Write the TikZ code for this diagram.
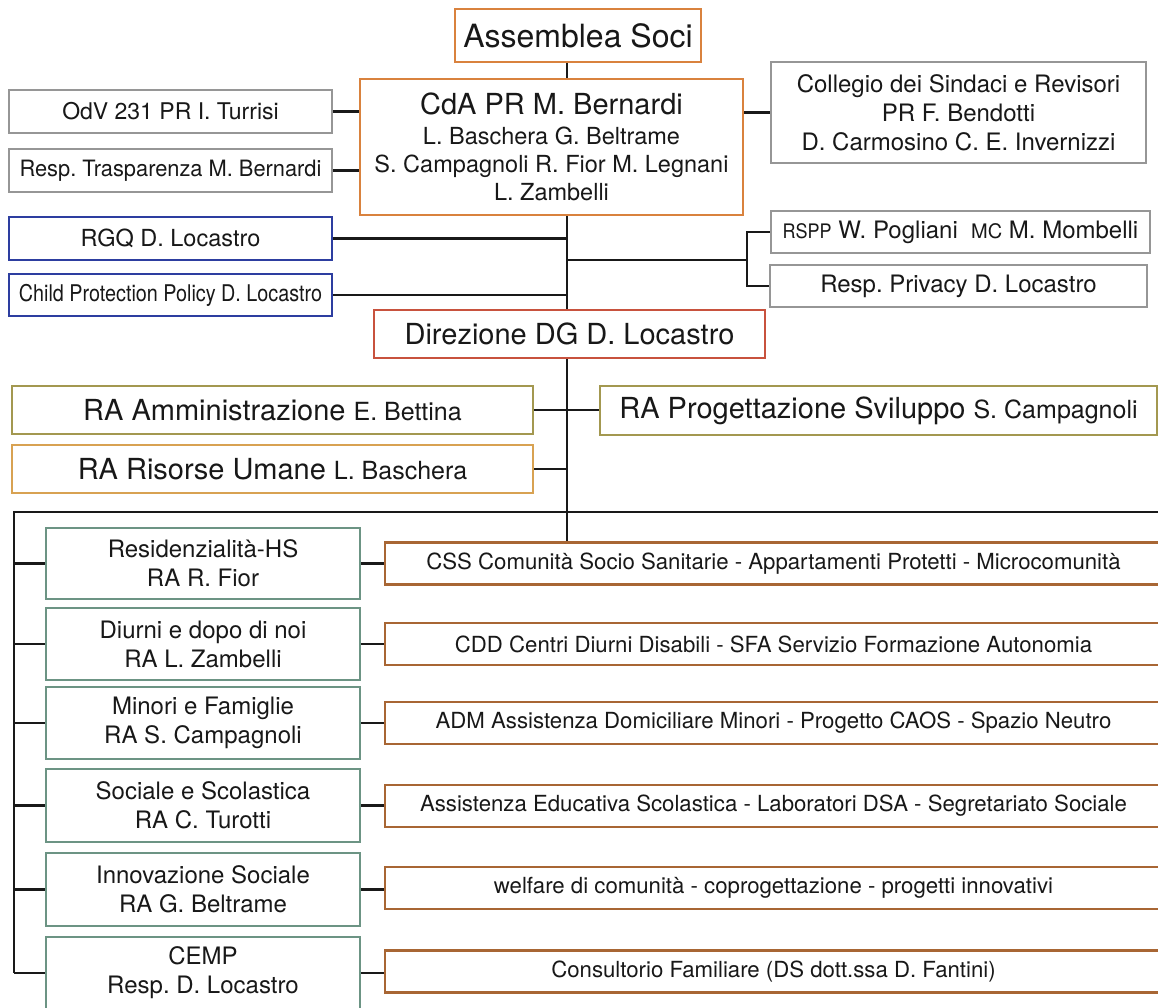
\documentclass[tikz,border=0pt]{standalone}
\usepackage{fontspec}
\usepackage{graphicx}
\setmainfont{TeX Gyre Heros}
\frenchspacing
\definecolor{corange}{RGB}{217,130,62}
\definecolor{cgray}{RGB}{150,150,150}
\definecolor{cblue}{RGB}{45,62,160}
\definecolor{cred}{RGB}{200,82,62}
\definecolor{colive}{RGB}{163,152,80}
\definecolor{ctan}{RGB}{216,162,82}
\definecolor{cgreen}{RGB}{108,148,132}
\definecolor{cbrown}{RGB}{168,102,52}
\definecolor{ctext}{RGB}{24,24,24}
\newcommand\myfs[2]{\fontsize{#1}{#2}\selectfont}
\begin{document}
\begin{tikzpicture}[x=1pt,y=-1pt,
  box/.style={draw, line width=2.6pt, inner sep=0pt, align=center, text=ctext},
  conn/.style={line width=2.9pt, black!90}]
\useasboundingbox (0,0) rectangle (1158,1007);
\fill[white] (0,0) rectangle (1158,1007);
\coordinate (vx) at (567,0);

% top
\node[box, draw=corange, minimum width=246pt, minimum height=53pt, font=\myfs{32}{38}] (asm) at (578,35.5) {Assemblea Soci};
\node[box, draw=corange, minimum width=383pt, minimum height=136pt, font=\myfs{23.5}{28}] (cda) at (551.5,147)
  {{\myfs{29}{32}CdA PR M. Bernardi}\\[2pt]L. Baschera G. Beltrame\\S. Campagnoli R. Fior M. Legnani\\L. Zambelli};
\node[box, draw=cgray, minimum width=323pt, minimum height=43pt, font=\myfs{23}{28}] (odv) at (170.5,111.5) {OdV 231 PR I. Turrisi};
\node[box, draw=cgray, minimum width=323pt, minimum height=43pt, font=\myfs{22.5}{28}] (trasp) at (170.5,170.5) {\scalebox{0.97}[1]{Resp. Trasparenza M. Bernardi}};
\node[box, draw=cblue, minimum width=323pt, minimum height=43pt, font=\myfs{23.5}{28}] (rgq) at (170.5,238.5) {RGQ D. Locastro};
\node[box, draw=cblue, minimum width=323pt, minimum height=42pt, font=\myfs{23}{28}] (cpp) at (170.5,295) {\scalebox{0.86}[1]{Child Protection Policy D. Locastro}};
\node[box, draw=cgray, minimum width=375pt, minimum height=101pt, font=\myfs{24}{29}] (coll) at (958.5,112.5)
  {Collegio dei Sindaci e Revisori\\PR F. Bendotti\\D. Carmosino C. E. Invernizzi};
\node[box, draw=cgray, minimum width=379pt, minimum height=42pt, font=\myfs{24}{28}] (rspp) at (960.5,232)
  {{\myfs{20}{24}\scalebox{0.9}[1]{RSPP}} W. Pogliani\ \ {\myfs{20}{24}MC} M. Mombelli};
\node[box, draw=cgray, minimum width=377pt, minimum height=42pt, font=\myfs{24}{28}] (priv) at (958.5,286) {Resp. Privacy D. Locastro};
\node[box, draw=cred, minimum width=391pt, minimum height=48pt, font=\myfs{29}{34}] (dir) at (569.5,334) {Direzione DG D. Locastro};

% RA
\node[box, draw=colive, minimum width=521pt, minimum height=48pt, font=\myfs{29}{34}] (ramm) at (272.5,410)
  {RA Amministrazione {\myfs{25}{30}E. Bettina}};
\node[box, draw=ctan, minimum width=521pt, minimum height=48pt, font=\myfs{29}{34}] (rhr) at (272.5,469)
  {RA Risorse Umane {\myfs{25}{30}L. Baschera}};
\node[box, draw=colive, minimum width=557pt, minimum height=49pt, font=\myfs{29}{34}] (rprog) at (878.5,410.5)
  {RA Progettazione Sviluppo {\myfs{25}{30}S. Campagnoli}};

% areas
\tikzset{area/.style={box, draw=cgreen, minimum width=314pt, minimum height=72pt, font=\myfs{24}{29}},
         serv/.style={box, draw=cbrown, minimum width=777pt, minimum height=42pt, font=\myfs{22.2}{26}}}
\node[area, minimum height=71pt] (g1) at (203,563.5) {Residenzialità-HS\\RA R. Fior};
\node[area] (g2) at (203,644) {Diurni e dopo di noi\\RA L. Zambelli};
\node[area] (g3) at (203,723) {Minori e Famiglie\\RA S. Campagnoli};
\node[area, minimum height=73pt] (g4) at (203,805.5) {Sociale e Scolastica\\RA C. Turotti};
\node[area, minimum height=73pt] (g5) at (203,889.5) {Innovazione Sociale\\RA G. Beltrame};
\node[area] (g6) at (203,973) {CEMP\\Resp. D. Locastro};

\node[serv] (s1) at (773.5,563.5) {CSS Comunità Socio Sanitarie - Appartamenti Protetti - Microcomunità};
\node[serv] (s2) at (773.5,644) {CDD Centri Diurni Disabili - SFA Servizio Formazione Autonomia};
\node[serv] (s3) at (773.5,723) {ADM Assistenza Domiciliare Minori - Progetto CAOS - Spazio Neutro};
\node[serv] (s4) at (773.5,806) {Assistenza Educativa Scolastica - Laboratori DSA - Segretariato Sociale};
\node[serv] (s5) at (773.5,888) {welfare di comunità - coprogettazione - progetti innovativi};
\node[serv] (s6) at (773.5,971.5) {Consultorio Familiare (DS dott.ssa D. Fantini)};

% connectors top
\draw[conn] (asm.south -| vx) -- (cda.north -| vx);
\draw[conn] (odv.east) -- (odv.east -| cda.west);
\draw[conn] (trasp.east) -- (trasp.east -| cda.west);
\draw[conn] (coll.west -| cda.east) -- (coll.west);
\draw[conn] (cda.south -| vx) -- (dir.north -| vx);
\draw[conn] (rgq.east) -- (rgq.east -| vx);
\draw[conn] (cpp.east) -- (cpp.east -| vx);
\coordinate (bx) at (747,260);
\draw[conn] (bx -| vx) -- (bx);
\draw[conn] (rspp.west) -- (rspp.west -| bx) -- (priv.west -| bx) -- (priv.west);

% connectors middle
\draw[conn] (dir.south -| vx) -- (s1.north -| vx);
\draw[conn] (ramm.east) -- (ramm.east -| rprog.west);
\draw[conn] (rhr.east) -- (rhr.east -| vx);
\coordinate (busL) at (14,512);
\coordinate (busR) at (1170,512);
\draw[conn] (busR) -- (busL) -- (busL |- g6.west);

% areas connectors
\foreach \i in {1,...,6}{
  \draw[conn] (g\i.west -| busL) -- (g\i.west);
  \draw[conn] (g\i.east) -- (g\i.east -| s\i.west);
}
\end{tikzpicture}
\end{document}
